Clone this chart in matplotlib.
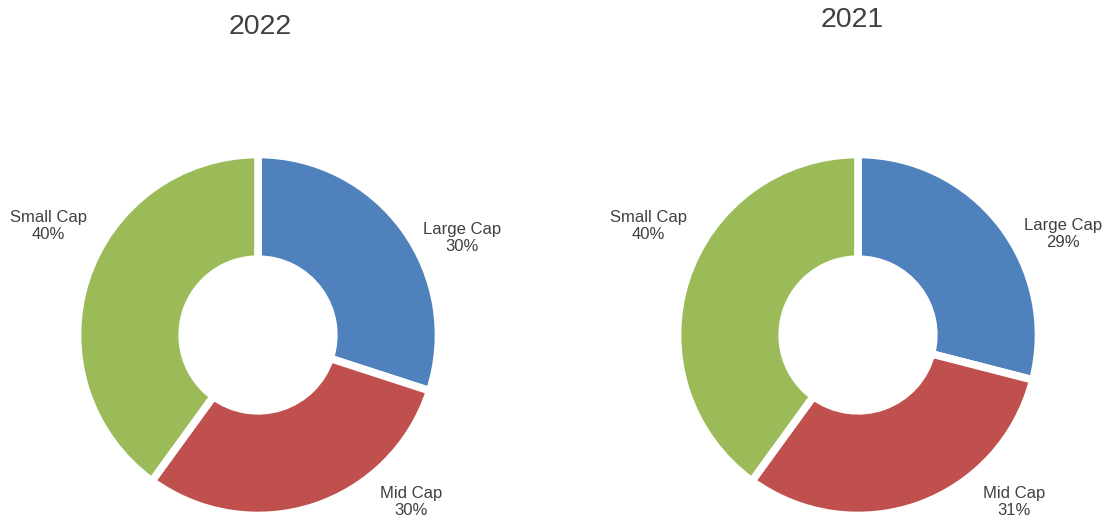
import matplotlib.pyplot as plt

plt.rcParams['font.family'] = ['Liberation Sans', 'DejaVu Sans']

categories = ['Large Cap', 'Mid Cap', 'Small Cap']
years = ['2022', '2021']
shares_2022 = [30, 30, 40]
shares_2021 = [29, 31, 40]
colors = ['#4f81bd', '#c0504d', '#9bbb59']
text_color = '#404040'

# layout in pixels (figure is 1109x519)
W, H = 1109, 519
centers = [(258, 335), (858, 335)]
radius = 180.5
title_pos = [(260, 27), (852, 20)]
# label centres per pie, same order as categories
label_pos = [
    [(462, 238), (411, 502), (48, 226)],
    [(1063, 234), (1014, 502), (648, 226)],
]

fig = plt.figure(figsize=(W / 100, H / 100), dpi=100)
ax = fig.add_axes([0, 0, 1, 1])

for i, shares in enumerate([shares_2022, shares_2021]):
    cx, cy = centers[i]
    ax.pie(shares, colors=colors, startangle=90, counterclock=False,
           center=(cx, H - cy), radius=radius,
           wedgeprops=dict(width=radius * 0.58, edgecolor='white', linewidth=5.5))
    tx, ty = title_pos[i]
    ax.text(tx, H - ty, years[i], ha='center', va='center', fontsize=20.5, color=text_color)
    for j, cat in enumerate(categories):
        lx, ly = label_pos[i][j]
        ax.text(lx, H - ly, f'{cat}\n{shares[j]}%', ha='center', va='center',
                fontsize=12, color=text_color, linespacing=1.15)

ax.set_xlim(0, W)
ax.set_ylim(0, H)
ax.set_aspect('auto')
ax.axis('off')

plt.savefig('out.png', dpi=100)
plt.close()
